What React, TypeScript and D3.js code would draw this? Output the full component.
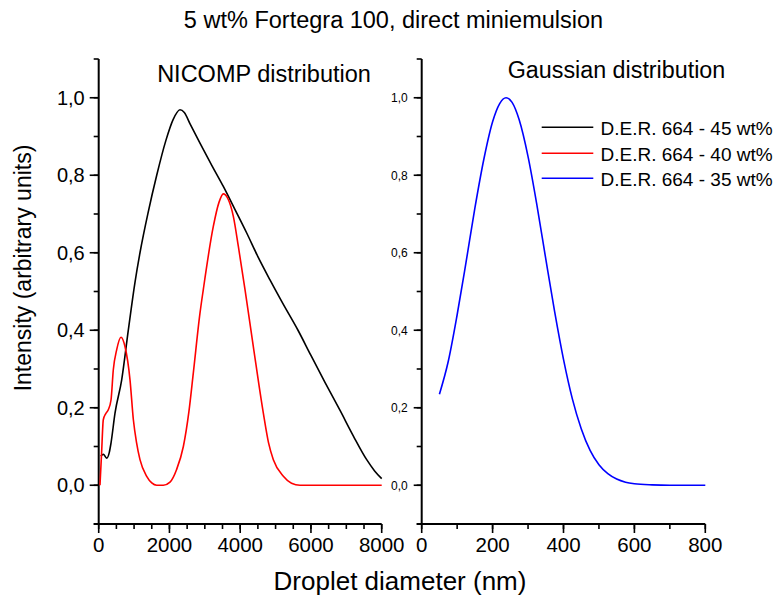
import React from "react";
import * as d3 from "d3";

const titleText = "5 wt% Fortegra 100, direct miniemulsion";
const leftTitle = "NICOMP distribution";
const rightTitle = "Gaussian distribution";
const xLabel = "Droplet diameter (nm)";
const yLabel = "Intensity (arbitrary units)";

const seriesNames = ["D.E.R. 664 - 45 wt%", "D.E.R. 664 - 40 wt%", "D.E.R. 664 - 35 wt%"];
const seriesColors = ["#000000", "#ff0000", "#0000ff"];

// NICOMP, 45 wt% (black)
const black45: [number, number][] = [
  [60, 0.075], [130, 0.08], [226, 0.07], [300, 0.085], [348, 0.109], [461, 0.186],
  [650, 0.272], [838, 0.401], [1028, 0.525], [1167, 0.6], [1400, 0.705], [1640, 0.8],
  [1900, 0.89], [2100, 0.943], [2298, 0.969], [2420, 0.962], [2586, 0.932], [2863, 0.883],
  [3200, 0.825], [3523, 0.771], [3850, 0.712], [4184, 0.651], [4500, 0.59], [4842, 0.53],
  [5200, 0.47], [5634, 0.4], [6000, 0.335], [6400, 0.265], [6823, 0.193], [7200, 0.127],
  [7576, 0.066], [7800, 0.037], [8000, 0.017],
];

// NICOMP, 40 wt% (red)
const red40: [number, number][] = [
  [36, 0], [80, 0.08], [130, 0.169], [200, 0.185], [271, 0.195], [348, 0.22], [413, 0.298],
  [509, 0.35], [630, 0.382], [743, 0.358], [885, 0.272], [980, 0.169], [1070, 0.11],
  [1167, 0.066], [1357, 0.023], [1500, 0.006], [1640, 0], [1827, 0], [2016, 0.008],
  [2200, 0.04], [2393, 0.1], [2550, 0.19], [2675, 0.29], [2863, 0.444], [2957, 0.505],
  [3240, 0.668], [3400, 0.73], [3523, 0.752], [3650, 0.74], [3806, 0.694], [3950, 0.615],
  [4136, 0.505], [4371, 0.358], [4654, 0.186], [4800, 0.11], [4937, 0.066], [5220, 0.023],
  [5450, 0.005], [5690, 0], [8000, 0],
];

// Gaussian, 35 wt% (blue)
const blue35: [number, number][] = [
  [50, 0.235], [75, 0.32], [100, 0.44], [125, 0.575], [150, 0.715], [175, 0.84], [200, 0.938],
  [220, 0.985], [238, 1.0], [255, 0.988], [275, 0.943], [300, 0.848], [325, 0.723], [350, 0.584],
  [375, 0.448], [400, 0.325], [425, 0.223], [450, 0.146], [475, 0.09], [500, 0.053], [525, 0.03],
  [550, 0.016], [575, 0.008], [600, 0.004], [650, 0.001], [700, 0], [800, 0],
];

const leftXMajor = [0, 2000, 4000, 6000, 8000];
const leftXMinor = d3.range(0, 8001, 500);
const rightXMajor = [0, 200, 400, 600, 800];
const rightXMinor = d3.range(0, 801, 100);
const yMajor = [0, 0.2, 0.4, 0.6, 0.8, 1.0];
const yMinor = d3.range(-1, 12).map((v) => v / 10);

const FONT = "'Liberation Sans', Arial, Helvetica, sans-serif";

const fmtY = (v: number) => d3.format(".1f")(v).replace(".", ",");

export default function App() {
  const yS = d3.scaleLinear().domain([-0.1, 1.1]).range([524, 59]);
  const xL = d3.scaleLinear().domain([0, 8000]).range([98.7, 381.7]);
  const xR = d3.scaleLinear().domain([0, 800]).range([421.7, 705.3]);

  const lineL = d3.line<[number, number]>().x((d) => xL(d[0])).y((d) => yS(d[1])).curve(d3.curveMonotoneX);
  const lineR = d3.line<[number, number]>().x((d) => xR(d[0])).y((d) => yS(d[1])).curve(d3.curveMonotoneX);

  const axisY = (x0: number, big: boolean) => (
    <g>
      <line x1={x0} x2={x0} y1={yS(1.1)} y2={yS(-0.1)} stroke="#000" strokeWidth={2} />
      {yMinor.map((v) => (
        <line key={"m" + v} x1={x0 - 5} x2={x0} y1={yS(v)} y2={yS(v)} stroke="#000" strokeWidth={1.6} />
      ))}
      {yMajor.map((v) => (
        <g key={"M" + v}>
          <line x1={x0 - (big ? 9 : 8)} x2={x0} y1={yS(v)} y2={yS(v)} stroke="#000" strokeWidth={1.6} />
          <text
            x={x0 - 14}
            y={yS(v)}
            dy="0.36em"
            textAnchor="end"
            fontSize={big ? 20 : 12}
            fontFamily={FONT}
            fill="#000"
          >
            {fmtY(v)}
          </text>
        </g>
      ))}
    </g>
  );

  const axisX = (sc: d3.ScaleLinear<number, number>, major: number[], minor: number[]) => {
    const y0 = yS(-0.1);
    return (
      <g>
        <line x1={sc.range()[0] - 5} x2={sc.range()[1]} y1={y0} y2={y0} stroke="#000" strokeWidth={2} />
        {minor.map((v) => (
          <line key={"m" + v} x1={sc(v)} x2={sc(v)} y1={y0} y2={y0 + 5} stroke="#000" strokeWidth={1.6} />
        ))}
        {major.map((v) => (
          <g key={"M" + v}>
            <line x1={sc(v)} x2={sc(v)} y1={y0} y2={y0 + 9} stroke="#000" strokeWidth={1.6} />
            <text x={sc(v)} y={551.5} textAnchor="middle" fontSize={20.5} fontFamily={FONT} fill="#000">
              {String(v)}
            </text>
          </g>
        ))}
      </g>
    );
  };

  const legendY = [127.3, 153.3, 178.3];

  return (
    <svg
      width={778}
      height={596}
      style={{ position: "absolute", left: 0, top: 0, background: "#fff" }}
      xmlns="http://www.w3.org/2000/svg"
    >
      <rect x={0} y={0} width={778} height={596} fill="#fff" />
      <text x={393.5} y={27.5} textAnchor="middle" fontSize={23.5} fontFamily={FONT} fill="#000">
        {titleText}
      </text>
      <text x={264} y={81.5} textAnchor="middle" fontSize={23.5} fontFamily={FONT} fill="#000">
        {leftTitle}
      </text>
      <text x={616.5} y={78} textAnchor="middle" fontSize={23.3} fontFamily={FONT} fill="#000">
        {rightTitle}
      </text>

      {axisY(98.7, true)}
      {axisY(421.7, false)}
      {axisX(xL, leftXMajor, leftXMinor)}
      {axisX(xR, rightXMajor, rightXMinor)}

      <path d={lineL(black45) || ""} fill="none" stroke={seriesColors[0]} strokeWidth={1.6} />
      <path d={lineL(red40) || ""} fill="none" stroke={seriesColors[1]} strokeWidth={1.6} />
      <path d={lineR(blue35) || ""} fill="none" stroke={seriesColors[2]} strokeWidth={1.6} />

      {seriesNames.map((n, i) => (
        <g key={n}>
          <line x1={541.7} x2={593.3} y1={legendY[i]} y2={legendY[i]} stroke={seriesColors[i]} strokeWidth={1.6} />
          <text x={600.5} y={legendY[i] + 7.5} fontSize={19} fontFamily={FONT} fill="#000">
            {n}
          </text>
        </g>
      ))}

      <text x={400} y={589.5} textAnchor="middle" fontSize={26} fontFamily={FONT} fill="#000">
        {xLabel}
      </text>
      <text
        transform={`translate(31, 268) rotate(-90)`}
        textAnchor="middle"
        fontSize={23}
        fontFamily={FONT}
        fill="#000"
      >
        {yLabel}
      </text>
    </svg>
  );
}
